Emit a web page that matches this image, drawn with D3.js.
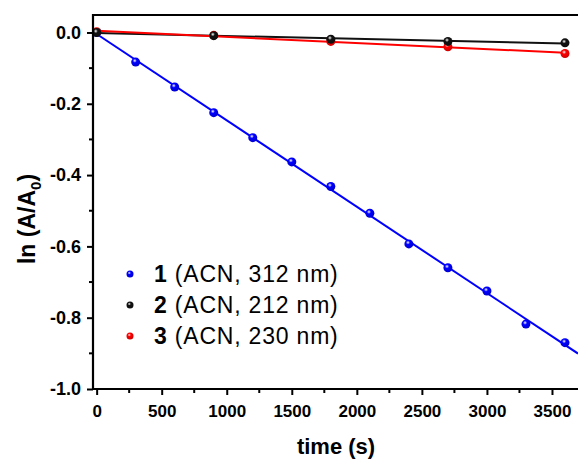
<!DOCTYPE html>
<html>
<head>
<meta charset="utf-8">
<script src="https://cdn.jsdelivr.net/npm/d3@7"></script>
<style>
  body { margin: 0; background: #fff; }
  svg { display: block; font-family: "Liberation Sans", Arial, sans-serif; }
</style>
</head>
<body>
<svg id="chart"></svg>
<script>
// data
var times1 = [0, 300, 600, 900, 1200, 1500, 1800, 2100, 2400, 2700, 3000, 3300, 3600];
var vals1 = [0, -0.083, -0.153, -0.225, -0.295, -0.363, -0.432, -0.507, -0.593, -0.660, -0.725, -0.818, -0.870];
var times2 = [0, 900, 1800, 2700, 3600];
var vals2 = [0, -0.009, -0.019, -0.025, -0.029];
var times3 = [0, 900, 1800, 2700, 3600];
var vals3 = [0.002, -0.008, -0.025, -0.040, -0.059];
var xTicks = [0, 500, 1000, 1500, 2000, 2500, 3000, 3500];
var yTicks = [0.0, -0.2, -0.4, -0.6, -0.8, -1.0];
var legendNums = ["1", "2", "3"];
var legendTexts = [" (ACN, 312 nm)", " (ACN, 212 nm)", " (ACN, 230 nm)"];
var colors = ["#0000ff", "#111111", "#ff0000"];

var width = 578, height = 459;
var margin = {left: 93, top: 15, bottom: 70};

var svg = d3.select("#chart").attr("width", width).attr("height", height);

var x = d3.scaleLinear().domain([-28, 3700]).range([margin.left, 578]);
var y = d3.scaleLinear().domain([-1.0, 0.049]).range([389, margin.top]);

// sphere-like marker gradients
var defs = svg.append("defs");
colors.forEach(function (c, i) {
    var g = defs.append("radialGradient").attr("id", "ball" + i)
        .attr("cx", "40%").attr("cy", "35%").attr("r", "65%");
    g.append("stop").attr("offset", "0%").attr("stop-color", "#fff");
    g.append("stop").attr("offset", "35%").attr("stop-color", c);
    g.append("stop").attr("offset", "100%").attr("stop-color", d3.color(c).darker(0.6));
});

// least-squares fit lines
function fit(xs, ys) {
    var mx = d3.mean(xs), my = d3.mean(ys);
    var num = d3.sum(xs, (v, i) => (v - mx) * (ys[i] - my));
    var den = d3.sum(xs, v => (v - mx) * (v - mx));
    var b = num / den;
    return {a: my - b * mx, b: b};
}

var series = [
    {t: times1, v: vals1, end: 3700},
    {t: times2, v: vals2, end: 3600},
    {t: times3, v: vals3, end: 3600}
];

var plot = svg.append("g");

series.forEach(function (s, i) {
    var f = fit(s.t, s.v);
    plot.append("line")
        .attr("x1", x(0)).attr("y1", y(f.a))
        .attr("x2", x(s.end)).attr("y2", y(f.a + f.b * s.end))
        .attr("stroke", colors[i]).attr("stroke-width", 2);
});

// blue, then red, then black on top (black dot shows at t=0 and 900)
[0, 2, 1].forEach(function (i) {
    var s = series[i];
    plot.selectAll(".pt" + i)
        .data(s.t.map((t, k) => [t, s.v[k]]))
        .enter().append("circle")
        .attr("cx", d => x(d[0]))
        .attr("cy", d => y(d[1]))
        .attr("r", 4.5)
        .attr("fill", "url(#ball" + i + ")");
});

// axes
var xAxis = d3.axisBottom(x).tickValues(xTicks).tickSize(6).tickFormat(d3.format("d"));
var gx = svg.append("g").attr("transform", "translate(0,389)").call(xAxis);
gx.select(".domain").remove();
gx.selectAll(".tick line").attr("stroke-width", 2);
gx.selectAll(".tick text").attr("font-size", 17).attr("font-weight", "bold")
    .attr("y", 28).attr("dy", null);

var xMinor = d3.range(250, 3700, 500);
svg.append("g").selectAll("line").data(xMinor).enter().append("line")
    .attr("x1", d => x(d)).attr("x2", d => x(d))
    .attr("y1", 389).attr("y2", 393)
    .attr("stroke", "#000").attr("stroke-width", 2);

var yAxis = d3.axisLeft(y).tickValues(yTicks).tickSize(6).tickFormat(d3.format(".1f"));
var gy = svg.append("g").attr("transform", "translate(" + margin.left + ",0)").call(yAxis);
gy.select(".domain").remove();
gy.selectAll(".tick line").attr("stroke-width", 2);
gy.selectAll(".tick text").attr("font-size", 18).attr("font-weight", "bold").attr("x", -12)
    .text(d => d3.format(".1f")(d).replace("−", "-"));

var yMinor = d3.range(-0.1, -1.0, -0.2);
svg.append("g").selectAll("line").data(yMinor).enter().append("line")
    .attr("x1", margin.left - 4).attr("x2", margin.left)
    .attr("y1", d => y(d)).attr("y2", d => y(d))
    .attr("stroke", "#000").attr("stroke-width", 2);

// frame (left, bottom, top; right side is off the picture)
svg.append("path")
    .attr("d", "M" + width + "," + margin.top + "H" + margin.left + "V389H" + width)
    .attr("fill", "none").attr("stroke", "#000").attr("stroke-width", 2.2);

// titles
svg.append("text").attr("x", 336).attr("y", 454).attr("text-anchor", "middle")
    .attr("font-size", 22).attr("font-weight", "bold").text("time (s)");

var yt = svg.append("text").attr("transform", "translate(35,219) rotate(-90)")
    .attr("text-anchor", "middle").attr("font-size", 23).attr("font-weight", "bold");
yt.append("tspan").text("ln (A/A");
yt.append("tspan").attr("font-size", 15).attr("dy", 6).text("0");
yt.append("tspan").attr("dy", -6).text(")");

// legend
var legend = svg.append("g");
var rows = legend.selectAll("g").data(legendNums).enter().append("g")
    .attr("transform", (d, i) => "translate(130," + (274 + i * 31) + ")");
rows.append("circle").attr("r", 3.5).attr("fill", (d, i) => "url(#ball" + i + ")");
var lt = rows.append("text").attr("x", 24).attr("dy", "0.36em")
    .attr("font-size", 23).attr("letter-spacing", 0.8);
lt.append("tspan").attr("font-weight", "bold").text(d => d);
lt.append("tspan").text((d, i) => legendTexts[i]);
</script>
</body>
</html>
